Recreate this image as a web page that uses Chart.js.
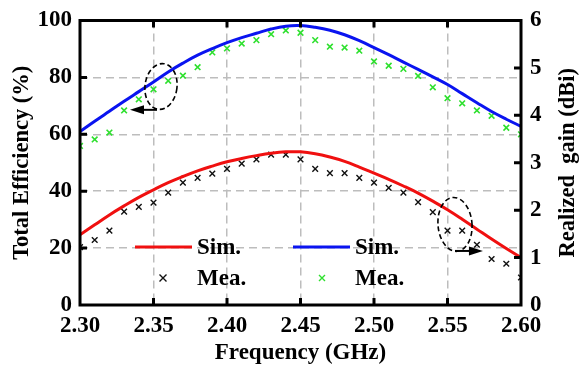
<!DOCTYPE html>
<html>
<head>
<meta charset="utf-8">
<script src="https://cdn.jsdelivr.net/npm/chart.js@4.4.0/dist/chart.umd.min.js"></script>
<style>
    html, body { margin: 0; padding: 0; background: #fff; }
    #wrap { width: 587px; height: 370px; }
</style>
</head>
<body>
<div id="wrap"><canvas id="chart" width="587" height="370"></canvas></div>
<script>
// Frequency samples (GHz)
const freqs = [2.30, 2.31, 2.32, 2.33, 2.34, 2.35, 2.36, 2.37, 2.38, 2.39, 2.40,
               2.41, 2.42, 2.43, 2.44, 2.45, 2.46, 2.47, 2.48, 2.49, 2.50,
               2.51, 2.52, 2.53, 2.54, 2.55, 2.56, 2.57, 2.58, 2.59, 2.60];

// Total efficiency (%)
const simEfficiency = [61.0, 64.6, 68.1, 71.6, 75.0, 78.4, 81.9, 85.0, 87.8, 90.1, 92.2,
                       94.0, 95.5, 97.0, 98.0, 98.2, 97.6, 96.6, 95.0, 92.9, 90.5,
                       88.0, 85.4, 82.8, 80.2, 77.5, 74.3, 71.1, 68.0, 65.3, 62.8];
const meaEfficiency = [55.9, 58.2, 60.6, 68.4, 72.3, 75.8, 78.8, 80.6, 83.6, 88.8, 90.2,
                       91.9, 93.1, 95.2, 96.5, 95.7, 93.1, 90.8, 90.5, 89.4, 85.6,
                       84.1, 83.0, 80.5, 76.5, 72.7, 70.9, 68.4, 66.5, 62.3, 60.0];

// Realized gain (dBi)
const simGain = [1.48, 1.69, 1.90, 2.09, 2.27, 2.43, 2.58, 2.71, 2.83, 2.93, 3.02,
                 3.09, 3.15, 3.20, 3.23, 3.23, 3.19, 3.12, 3.03, 2.91, 2.78,
                 2.65, 2.51, 2.36, 2.19, 2.01, 1.81, 1.60, 1.39, 1.19, 1.00];
const meaGain = [1.22, 1.37, 1.57, 1.97, 2.07, 2.16, 2.37, 2.58, 2.68, 2.77, 2.87,
                 2.98, 3.07, 3.17, 3.17, 3.07, 2.87, 2.78, 2.78, 2.68, 2.58,
                 2.47, 2.37, 2.17, 1.96, 1.57, 1.57, 1.27, 0.97, 0.87, 0.58];

// Tick labels
const freqTicks = [2.30, 2.35, 2.40, 2.45, 2.50, 2.55, 2.60];
const effTicks = [0, 20, 40, 60, 80, 100];
const gainTicks = [0, 1, 2, 3, 4, 5, 6];

const FONT = '"Liberation Serif", "Times New Roman", serif';
const BLUE = '#0a14f0';
const RED = '#f01010';
const GREEN = '#2ee02e';

function pts(ys) {
    return freqs.map((f, i) => ({ x: f, y: ys[i] }));
}

// frame box + inward tick marks, drawn over the data
const framePlugin = {
    id: 'frame',
    afterDatasetsDraw(chart) {
        const { ctx, chartArea: a, scales } = chart;
        ctx.save();
        ctx.strokeStyle = '#000';
        ctx.lineWidth = 3;
        ctx.beginPath();
        const len = 7;
        freqTicks.slice(1, -1).forEach(v => {
            const x = scales.x.getPixelForValue(v);
            ctx.moveTo(x, a.bottom); ctx.lineTo(x, a.bottom - len);
            ctx.moveTo(x, a.top); ctx.lineTo(x, a.top + len);
        });
        effTicks.slice(1, -1).forEach(v => {
            const y = scales.y.getPixelForValue(v);
            ctx.moveTo(a.left, y); ctx.lineTo(a.left + len, y);
        });
        gainTicks.slice(1, -1).forEach(v => {
            const y = scales.y2.getPixelForValue(v);
            ctx.moveTo(a.right, y); ctx.lineTo(a.right - len, y);
        });
        ctx.stroke();
        ctx.strokeRect(a.left, a.top, a.right - a.left, a.bottom - a.top);
        ctx.restore();
    }
};

function cross(ctx, x, y, r, color, w) {
    ctx.strokeStyle = color;
    ctx.lineWidth = w;
    ctx.beginPath();
    ctx.moveTo(x - r, y - r); ctx.lineTo(x + r, y + r);
    ctx.moveTo(x + r, y - r); ctx.lineTo(x - r, y + r);
    ctx.stroke();
}

function arrow(ctx, x1, x2, y) {
    const dir = Math.sign(x2 - x1);
    ctx.beginPath();
    ctx.moveTo(x1, y); ctx.lineTo(x2 - dir * 10, y);
    ctx.lineWidth = 2;
    ctx.stroke();
    ctx.beginPath();
    ctx.moveTo(x2, y);
    ctx.lineTo(x2 - dir * 14, y - 4.5);
    ctx.lineTo(x2 - dir * 14, y + 4.5);
    ctx.closePath();
    ctx.fill();
}

// legend box, right axis title (reads bottom-up) and the dashed ellipses
const notesPlugin = {
    id: 'notes',
    afterDraw(chart) {
        const { ctx, scales, chartArea: a } = chart;
        const sx = scales.x, sy = scales.y, sg = scales.y2;
        ctx.save();

        // right axis title
        ctx.save();
        ctx.font = 'bold 22.5px ' + FONT;
        ctx.fillStyle = '#000';
        ctx.textAlign = 'center';
        ctx.textBaseline = 'middle';
        ctx.translate(568, (a.top + a.bottom) / 2);
        ctx.rotate(-Math.PI / 2);
        ctx.fillText('Realized  gain (dBi)', 0, 0);
        ctx.restore();

        // legend
        ctx.font = 'bold 23px ' + FONT;
        ctx.fillStyle = '#000';
        ctx.textBaseline = 'middle';
        ctx.lineWidth = 3;
        ctx.strokeStyle = RED;
        ctx.beginPath(); ctx.moveTo(135, 247); ctx.lineTo(192, 247); ctx.stroke();
        ctx.fillText('Sim.', 197, 248);
        cross(ctx, 163, 278, 3.5, '#111', 1.4);
        ctx.fillText('Mea.', 197, 279);
        ctx.lineWidth = 3;
        ctx.strokeStyle = BLUE;
        ctx.beginPath(); ctx.moveTo(293, 247); ctx.lineTo(350, 247); ctx.stroke();
        ctx.fillText('Sim.', 355, 248);
        cross(ctx, 322, 278, 3, GREEN, 1.4);
        ctx.fillText('Mea.', 355, 279);

        // annotations
        ctx.strokeStyle = '#000';
        ctx.fillStyle = '#000';
        ctx.lineWidth = 1.6;
        ctx.setLineDash([5, 3]);
        ctx.beginPath();
        ctx.ellipse(sx.getPixelForValue(2.3551), sy.getPixelForValue(76.8), 16, 23, 0.12, 0, Math.PI * 2);
        ctx.stroke();
        ctx.beginPath();
        ctx.ellipse(sx.getPixelForValue(2.5551), sg.getPixelForValue(1.70), 17, 27, -0.08, 0, Math.PI * 2);
        ctx.stroke();
        ctx.setLineDash([]);
        arrow(ctx, sx.getPixelForValue(2.3524), sx.getPixelForValue(2.334), sy.getPixelForValue(68.6));
        arrow(ctx, sx.getPixelForValue(2.5551), sx.getPixelForValue(2.5741), sg.getPixelForValue(1.14));
        ctx.restore();
    }
};

const tickFont = { family: FONT, size: 23, weight: 'bold', lineHeight: 1 };

new Chart(document.getElementById('chart'), {
    type: 'line',
    data: {
        datasets: [
            {
                label: 'Sim. efficiency',
                data: pts(simEfficiency),
                yAxisID: 'y',
                borderColor: BLUE,
                borderWidth: 3,
                pointRadius: 0,
                tension: 0.4,
                fill: false
            },
            {
                label: 'Mea. efficiency',
                data: pts(meaEfficiency),
                yAxisID: 'y',
                showLine: false,
                pointStyle: 'crossRot',
                pointRadius: 4,
                pointBorderColor: GREEN,
                pointBorderWidth: 1.6
            },
            {
                label: 'Sim. gain',
                data: pts(simGain),
                yAxisID: 'y2',
                borderColor: RED,
                borderWidth: 3,
                pointRadius: 0,
                tension: 0.4,
                fill: false
            },
            {
                label: 'Mea. gain',
                data: pts(meaGain),
                yAxisID: 'y2',
                showLine: false,
                pointStyle: 'crossRot',
                pointRadius: 4,
                pointBorderColor: '#111',
                pointBorderWidth: 1.4
            }
        ]
    },
    options: {
        responsive: false,
        animation: false,
        layout: { padding: { top: 16, left: 0, right: 0, bottom: 0 } },
        plugins: {
            legend: { display: false },
            tooltip: { enabled: false }
        },
        scales: {
            x: {
                type: 'linear',
                min: 2.30,
                max: 2.60,
                afterBuildTicks: s => { s.ticks = freqTicks.map(v => ({ value: v })); },
                afterFit: s => { s.height = 65; },
                ticks: {
                    color: '#000',
                    font: tickFont,
                    padding: 10,
                    maxRotation: 0,
                    callback: v => v.toFixed(2)
                },
                grid: { color: '#bdbdbd', lineWidth: 1.5, drawTicks: false },
                border: { display: false, dash: [8, 5] },
                title: {
                    display: true,
                    text: 'Frequency (GHz)',
                    color: '#000',
                    font: { family: FONT, size: 23, weight: 'bold', lineHeight: 1.2 },
                    padding: { top: 0, bottom: 3 }
                }
            },
            y: {
                position: 'left',
                min: 0,
                max: 100,
                afterBuildTicks: s => { s.ticks = effTicks.map(v => ({ value: v })); },
                afterFit: s => { s.width = 80; },
                ticks: { color: '#000', font: tickFont, padding: 8 },
                grid: { color: '#bdbdbd', lineWidth: 1.5, drawTicks: false },
                border: { display: false, dash: [8, 5] },
                title: {
                    display: true,
                    text: 'Total Efficiency (%)',
                    color: '#000',
                    font: { family: FONT, size: 22.5, weight: 'bold', lineHeight: 1.2 },
                    padding: { top: 9, bottom: 0 }
                }
            },
            y2: {
                position: 'right',
                min: 0,
                max: 6,
                afterBuildTicks: s => { s.ticks = gainTicks.map(v => ({ value: v })); },
                afterFit: s => { s.width = 66; },
                ticks: { color: '#000', font: tickFont, padding: 9 },
                grid: { drawOnChartArea: false, drawTicks: false },
                border: { display: false }
            }
        }
    },
    plugins: [framePlugin, notesPlugin]
});
</script>
</body>
</html>
